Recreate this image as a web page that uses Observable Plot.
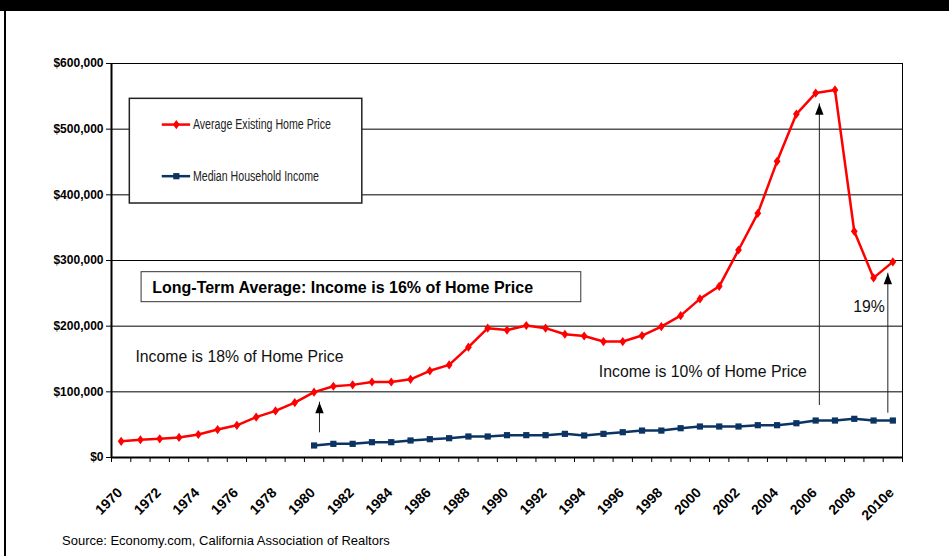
<!DOCTYPE html>
<html>
<head>
<meta charset="utf-8">
<script src="https://cdn.jsdelivr.net/npm/d3@7"></script>
<script src="https://cdn.jsdelivr.net/npm/@observablehq/plot@0.6"></script>
<style>
  html, body { margin: 0; padding: 0; background: #fff; }
  #page { position: relative; width: 949px; height: 556px; overflow: hidden; background: #fff; }
  #topbar { position: absolute; left: 0; top: 0; width: 949px; height: 11px; background: #000; z-index: 2; }
  #leftline { position: absolute; left: 4px; top: 0; width: 2px; height: 556px; background: #000; z-index: 2; }
  #chart { position: absolute; left: 0; top: 0; }
  #caption { position: absolute; left: 62px; top: 533px; font: 13px "Liberation Sans", Arial, sans-serif; color: #000; }
</style>
</head>
<body>
<div id="page">
  <div id="topbar"></div>
  <div id="leftline"></div>
  <div id="chart"></div>
  <div id="caption">Source: Economy.com, California Association of Realtors</div>
</div>
<script>
// ---- data ----
const years = [1970,1971,1972,1973,1974,1975,1976,1977,1978,1979,1980,1981,1982,1983,1984,1985,1986,1987,1988,1989,1990,1991,1992,1993,1994,1995,1996,1997,1998,1999,2000,2001,2002,2003,2004,2005,2006,2007,2008,2009,2010];
const homePrice = [24640,27000,28500,30500,35000,42600,49000,61400,71000,83700,99500,108500,110600,115000,115000,119000,132000,141000,168000,197000,194000,201000,197000,187700,185000,176600,176600,185700,199400,216000,241500,260700,316000,371800,451000,523000,555000,559700,344500,273500,297900];
const incomeYears = [1980,1981,1982,1983,1984,1985,1986,1987,1988,1989,1990,1991,1992,1993,1994,1995,1996,1997,1998,1999,2000,2001,2002,2003,2004,2005,2006,2007,2008,2009,2010];
const income = [18300,20800,20800,23300,23300,25900,27900,29400,32000,32000,34000,34000,34000,36000,33500,36000,38500,41000,41000,44600,47200,47200,47200,49200,49200,52200,56300,56300,58900,56300,56300];
const labelYears = [1970,1972,1974,1976,1978,1980,1982,1984,1986,1988,1990,1992,1994,1996,1998,2000,2002,2004,2006,2008,2010];
const tickLabels = ["1970","1972","1974","1976","1978","1980","1982","1984","1986","1988","1990","1992","1994","1996","1998","2000","2002","2004","2006","2008","2010e"];
const yTicks = [0,100000,200000,300000,400000,500000,600000];
const seriesNames = ["Average Existing Home Price","Median Household Income"];

const priceData = years.map((y, i) => ({year: y, value: homePrice[i]}));
const incomeData = incomeYears.map((y, i) => ({year: y, value: income[i]}));
const boundaries = years.map(y => y - 0.5).concat([years[years.length - 1] + 0.5]);

const RED = "#ff0000";
const NAVY = "#0b3462";
const FONT = '"Liberation Sans", Arial, Helvetica, sans-serif';

// custom symbols
const diamond = {draw(ctx) { const w = 3.4, h = 4.6; ctx.moveTo(0, -h); ctx.lineTo(w, 0); ctx.lineTo(0, h); ctx.lineTo(-w, 0); ctx.closePath(); }};
const square = {draw(ctx) { const s = 3.1; ctx.moveTo(-s, -s); ctx.lineTo(s, -s); ctx.lineTo(s, s); ctx.lineTo(-s, s); ctx.closePath(); }};
const arrowHead = {draw(ctx) { ctx.moveTo(0, 0); ctx.lineTo(4.2, 11); ctx.lineTo(-4.2, 11); ctx.closePath(); }};

const arrows = [
  {x: 1980.28, y1: 37600, y2: 84200},
  {x: 2006.19, y1: 79200, y2: 538600},
  {x: 2009.74, y1: 67500, y2: 280600}
];

const chart = Plot.plot({
  width: 949,
  height: 525,
  marginLeft: 111,
  marginRight: 47,
  marginTop: 63,
  marginBottom: 68,
  style: {fontFamily: FONT, color: "#000", background: "transparent", overflow: "visible"},
  x: {domain: [1969.5, 2010.5], axis: null},
  y: {domain: [0, 600000], axis: null},
  marks: [
    // gridlines
    Plot.ruleY(yTicks.filter(d => d > 0), {stroke: "#000", strokeWidth: 1}),
    // right border
    Plot.ruleX([2010.5], {stroke: "#000", strokeWidth: 1}),
    // y axis
    Plot.axisY({ticks: yTicks, tickFormat: d3.format("$,"), tickSize: 5, tickPadding: 3, fontSize: 12, fontWeight: "bold", stroke: "#000", strokeWidth: 1}),
    // x axis ticks at category boundaries
    Plot.axisX({ticks: boundaries, tickFormat: () => "", tickSize: 5, stroke: "#000", strokeWidth: 1}),
    // x labels
    Plot.text(labelYears, {x: d => d, y: 0, text: (d, i) => tickLabels[i], rotate: -45, textAnchor: "end", lineAnchor: "bottom", dx: 2, dy: 36, fontSize: 14, fontWeight: "bold"}),
    // axis lines
    Plot.ruleX([1969.5], {stroke: "#000", strokeWidth: 2}),
    Plot.ruleY([0], {stroke: "#000", strokeWidth: 2}),

    // legend box
    Plot.rect([0], {x1: 1970.45, x2: 1982.5, y1: 546200, y2: 386800, fill: "#fff", stroke: "#222", strokeWidth: 1.5}),
    Plot.ruleY([507000], {x1: 1972.13, x2: 1973.6, stroke: RED, strokeWidth: 2.5}),
    Plot.dot([0], {x: 1972.86, y: 507000, symbol: diamond, fill: RED, stroke: "none"}),
    Plot.text([seriesNames[0]], {x: 1973.72, y: 507000, text: d => d, textAnchor: "start", fontSize: 14, fill: "#222"}),
    Plot.ruleY([428400], {x1: 1972.13, x2: 1973.6, stroke: NAVY, strokeWidth: 2.5}),
    Plot.dot([0], {x: 1972.86, y: 428400, symbol: square, fill: NAVY, stroke: "none"}),
    Plot.text([seriesNames[1]], {x: 1973.72, y: 428400, text: d => d, textAnchor: "start", fontSize: 14, fill: "#222"}),

    // long-term box
    Plot.rect([0], {x1: 1971.06, x2: 1993.85, y1: 282200, y2: 236500, fill: "#fff", stroke: "#333", strokeWidth: 1}),
    Plot.text(["Long-Term Average: Income is 16% of Home Price"], {x: 1971.61, y: 258900, text: d => d, textAnchor: "start", fontSize: 16, fontWeight: "bold"}),

    // series
    Plot.line(priceData, {x: "year", y: "value", stroke: RED, strokeWidth: 2.5}),
    Plot.dot(priceData, {x: "year", y: "value", symbol: diamond, fill: RED, stroke: "none"}),
    Plot.line(incomeData, {x: "year", y: "value", stroke: NAVY, strokeWidth: 2.5}),
    Plot.dot(incomeData, {x: "year", y: "value", symbol: square, fill: NAVY, stroke: "none"}),

    // arrows
    Plot.ruleX(arrows, {x: "x", y1: "y1", y2: "y2", stroke: "#222", strokeWidth: 1}),
    Plot.dot(arrows, {x: "x", y: "y2", symbol: arrowHead, fill: "#000", stroke: "none"}),

    // annotations
    Plot.text(["Income is 18% of Home Price"], {x: 1970.74, y: 153800, text: d => d, textAnchor: "start", fontSize: 15.8, fill: "#111"}),
    Plot.text(["Income is 10% of Home Price"], {x: 1994.76, y: 129900, text: d => d, textAnchor: "start", fontSize: 15.8, fill: "#111"}),
    Plot.text(["19%"], {x: 2007.95, y: 228900, text: d => d, textAnchor: "start", fontSize: 15.8, fill: "#111"})
  ]
});

// Legend labels use a narrow face in the original: compress them to the same length
const legendWidths = {[seriesNames[0]]: 138, [seriesNames[1]]: 126};
d3.select(chart).selectAll("text").each(function() {
  const w = legendWidths[this.textContent];
  if (w) { this.setAttribute("textLength", w); this.setAttribute("lengthAdjust", "spacingAndGlyphs"); }
});

document.getElementById("chart").appendChild(chart);
</script>
</body>
</html>
